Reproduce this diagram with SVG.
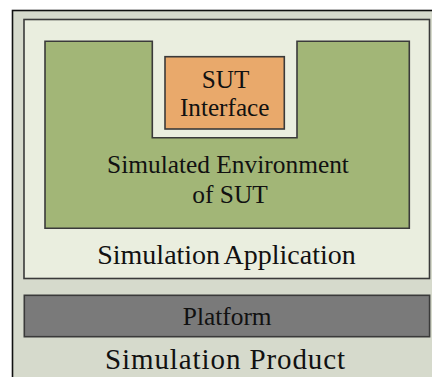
<svg xmlns="http://www.w3.org/2000/svg" width="432" height="377" viewBox="0 0 432 377">
<style>
.t{font-family:"Liberation Serif","Times New Roman",serif;fill:#111;text-anchor:middle}
.b{stroke:#3a3a3a;stroke-width:1.6}
</style>
<rect width="432" height="377" fill="#ffffff"/>
<g id="simulation-product">
<rect x="12.5" y="10.5" width="430" height="380" fill="#d6dacc" stroke="#111" stroke-width="1.6"/>
<text class="t" x="225.5" y="369" font-size="29" letter-spacing="0.9">Simulation Product</text>
</g>
<g id="simulation-application">
<rect x="24" y="19.5" width="405.5" height="259" fill="#eaeedf" class="b"/>
<text class="t" x="226.5" y="264" font-size="28" word-spacing="-2">Simulation Application</text>
</g>
<g id="simulated-environment">
<path d="M45,41.3 H152.3 V137.7 H297 V41.3 H409.3 V228.3 H45 Z" fill="#a2b677" class="b"/>
<text class="t" x="228" y="173" font-size="25.4">Simulated Environment</text>
<text class="t" x="230" y="203" font-size="25.4">of SUT</text>
</g>
<g id="sut-interface">
<rect x="165" y="56.7" width="119.3" height="72.3" fill="#e9a96b" class="b"/>
<text class="t" x="225.5" y="87.5" font-size="25.2">SUT</text>
<text class="t" x="224.7" y="115.5" font-size="25.2">Interface</text>
</g>
<g id="platform">
<rect x="24.3" y="295.3" width="405.3" height="41.4" fill="#7a7a7a" class="b"/>
<text class="t" x="227.2" y="325" font-size="25.4">Platform</text>
</g>
<g id="connectors"/>
</svg>
